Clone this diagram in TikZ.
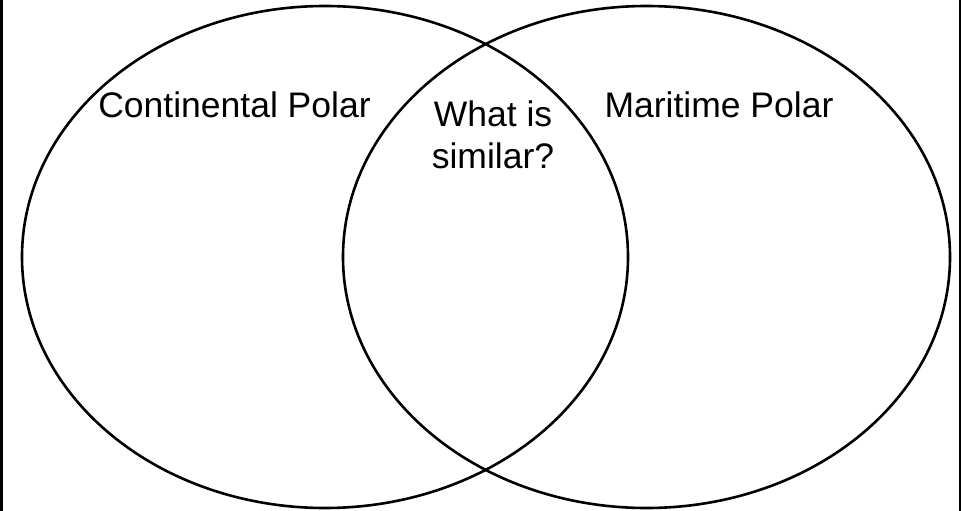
\documentclass[tikz,border=0pt]{standalone}
\usepackage{fontspec}
\setmainfont{Liberation Sans}
\begin{document}
\begin{tikzpicture}[x=1pt,y=-1pt,
  venn/.style={draw=black,line width=2.6pt},
  lbl/.style={font=\fontsize{35.5}{42}\selectfont,inner sep=0pt,anchor=base,align=center},
  bar/.style={fill=black,draw=none}]
\useasboundingbox (0,0) rectangle (961,511);
\fill[white] (0,0) rectangle (961,511);
\fill[bar] (0,0) rectangle (2.5,511);
\fill[bar] (959,0) rectangle (961,511);
\draw[venn] (325,257) ellipse [x radius=303, y radius=251];
\draw[venn] (646.5,257) ellipse [x radius=303.5, y radius=251];
\node[lbl] (cp) at (234.5,117) {Continental Polar};
\node[lbl] (mp) at (719,117) {Maritime Polar};
\node[lbl,anchor=north] (ws) at (493,101) {What is\\similar?};
\end{tikzpicture}
\end{document}
